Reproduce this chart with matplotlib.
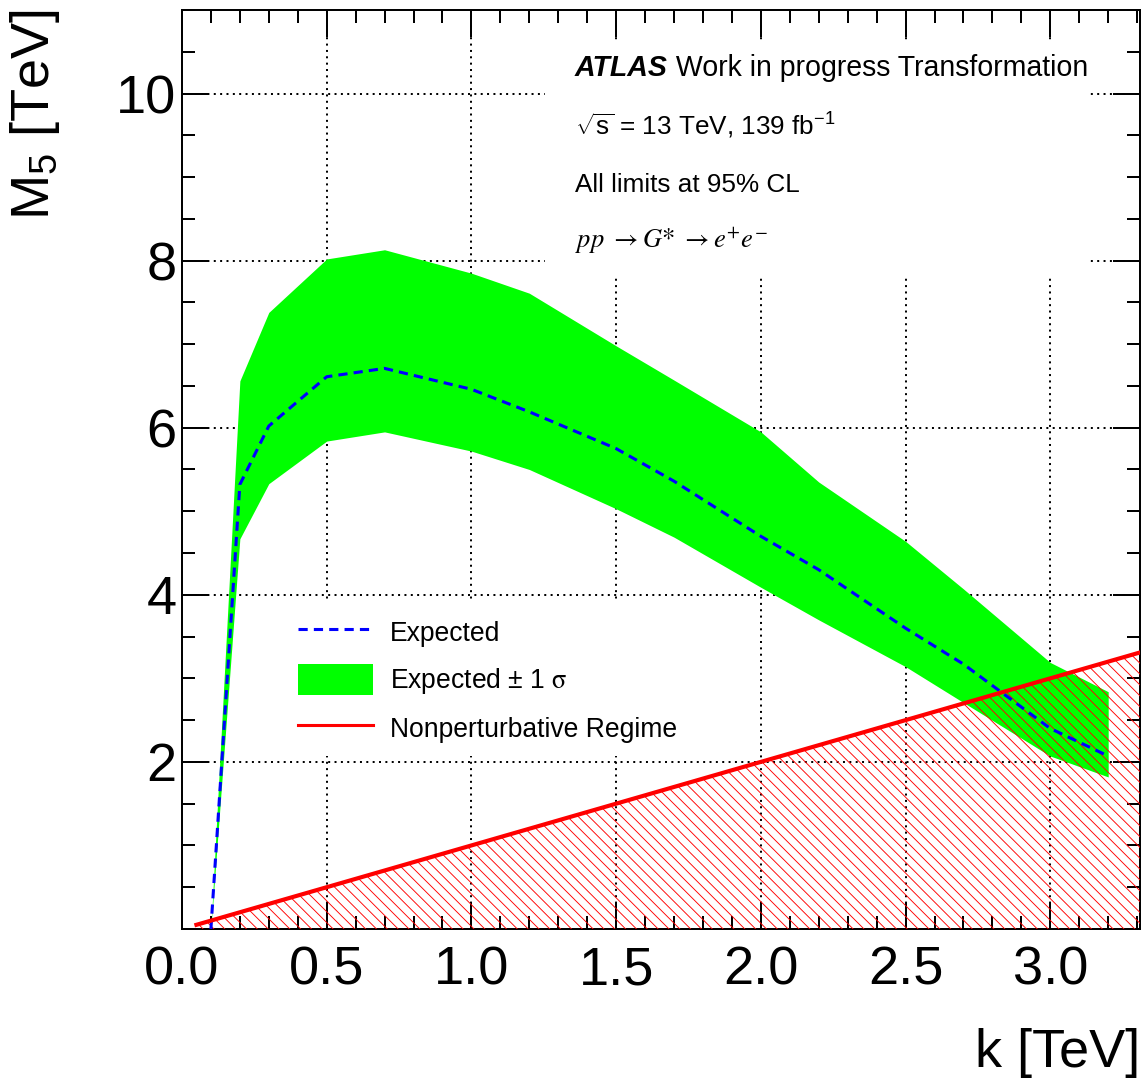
import numpy as np
import matplotlib
matplotlib.use('Agg')
from matplotlib import pyplot as plt
from matplotlib.lines import Line2D
from matplotlib.patches import Patch, Rectangle
from matplotlib.ticker import MultipleLocator, FormatStrFormatter

# Settings
plt.rcParams['font.family'] = ['Liberation Sans', 'DejaVu Sans']
plt.rcParams['mathtext.fontset'] = 'custom'
plt.rcParams['mathtext.rm'] = 'Liberation Sans'
plt.rcParams['mathtext.it'] = 'Liberation Sans:italic'
plt.rcParams['hatch.color'] = 'red'
plt.rcParams['hatch.linewidth'] = 0.5

# Expected limit on M5 vs k (TeV) with the +-1 sigma band
k = [0.1, 0.2, 0.3, 0.5, 0.7, 1.0, 1.2, 1.5, 1.7, 2.0, 2.2, 2.5, 2.7, 3.0, 3.2]
expected = [0.0, 5.32, 6.02, 6.61, 6.71, 6.46, 6.19, 5.75, 5.36, 4.70, 4.30, 3.60, 3.17, 2.40, 2.07]
band_up = [0.0, 6.56, 7.38, 8.02, 8.13, 7.85, 7.61, 6.98, 6.57, 5.95, 5.35, 4.64, 4.07, 3.19, 2.84]
band_lo = [0.0, 4.67, 5.33, 5.84, 5.95, 5.72, 5.50, 5.03, 4.69, 4.09, 3.70, 3.14, 2.71, 2.07, 1.82]

# Nonperturbative regime: M5 < k
k_np = [0.05, 3.31]
m5_np = [0.05, 3.31]

fig = plt.figure(figsize=(1143 / 130, 1084 / 130), dpi=130)
ax = fig.add_axes([0.1592, 0.1430, 0.8382, 0.8478])
ax.set_axisbelow(True)

ax.fill_between(k, band_lo, band_up, color=(0, 1, 0), linewidth=0, zorder=2)
ax.fill_between(k_np, 0, m5_np, facecolor='none', edgecolor='red', hatch='\\\\\\\\',
                linewidth=0, zorder=3)
ax.plot(k, expected, color='blue', lw=1.7, ls=(0, (3, 2)), zorder=4)
ax.plot(k_np, m5_np, color='red', lw=2.3, zorder=5)

ax.set_xlim(0, 3.31)
ax.set_ylim(0, 11)
ax.xaxis.set_major_locator(MultipleLocator(0.5))
ax.xaxis.set_minor_locator(MultipleLocator(0.1))
ax.xaxis.set_major_formatter(FormatStrFormatter('%.1f'))
ax.set_yticks([2, 4, 6, 8, 10])
ax.yaxis.set_minor_locator(MultipleLocator(0.5))
ax.tick_params(which='both', direction='in', top=True, right=True, width=1.1, labelsize=30)
ax.tick_params(which='major', length=15)
ax.tick_params(which='minor', length=7)
ax.tick_params(axis='x', pad=9)
ax.tick_params(axis='y', pad=3)
for s in ax.spines.values():
    s.set_linewidth(1.1)
ax.grid(True, which='major', color='black', ls=(0, (1, 2.2)), lw=1.1)

ax.set_xlabel('k [TeV]', fontsize=30, loc='right')
ax.xaxis.set_label_coords(1.0, -0.108)
ax.set_ylabel(r'M$_5$ [TeV]', fontsize=30, loc='top')
ax.yaxis.set_label_coords(-0.125, 1.0)

# white boxes keep the grid out from under the labels
ax.add_patch(Rectangle((0.379, 0.708), 0.569, 0.259, transform=ax.transAxes,
                       facecolor='white', edgecolor='none', zorder=1))
ax.add_patch(Rectangle((0.113, 0.188), 0.43, 0.168, transform=ax.transAxes,
                       facecolor='white', edgecolor='none', zorder=1))

t1 = ax.text(0.410, 0.928, 'ATLAS', transform=ax.transAxes, fontsize=15.8,
             fontweight='bold', style='italic', va='baseline')
ax.annotate(' Work in progress Transformation', xy=(1, 0), xycoords=t1,
            fontsize=15.8, va='bottom', ha='left')
ax.text(0.410, 0.864, r'$\sqrt{\mathrm{s}}$ = 13 TeV, 139 fb$^{-1}$', transform=ax.transAxes,
        fontsize=14.5, va='baseline')
ax.text(0.410, 0.802, 'All limits at 95% CL', transform=ax.transAxes,
        fontsize=14.5, va='baseline')
ax.text(0.410, 0.741, r'$pp\ \rightarrow G{*}\ \rightarrow e^{+}e^{-}$', transform=ax.transAxes,
        fontsize=14.7, va='baseline', math_fontfamily='stix')

handles = [Line2D([], [], color='blue', lw=1.7, ls=(0, (3, 2))),
           Patch(facecolor=(0, 1, 0), edgecolor='none'),
           Line2D([], [], color='red', lw=1.7)]
labels = ['Expected', r'Expected ± 1 $\mathrm{\sigma}$', 'Nonperturbative Regime']
leg = ax.legend(handles, labels, loc='upper left', bbox_to_anchor=(0.121, 0.340),
                frameon=False, fontsize=14.7, borderpad=0, borderaxespad=0,
                handlelength=2.83, handleheight=1.4, handletextpad=0.64, labelspacing=0.64)
for t in leg.get_texts():
    t.set_math_fontfamily('stix')

plt.savefig('out.png', dpi=130)
